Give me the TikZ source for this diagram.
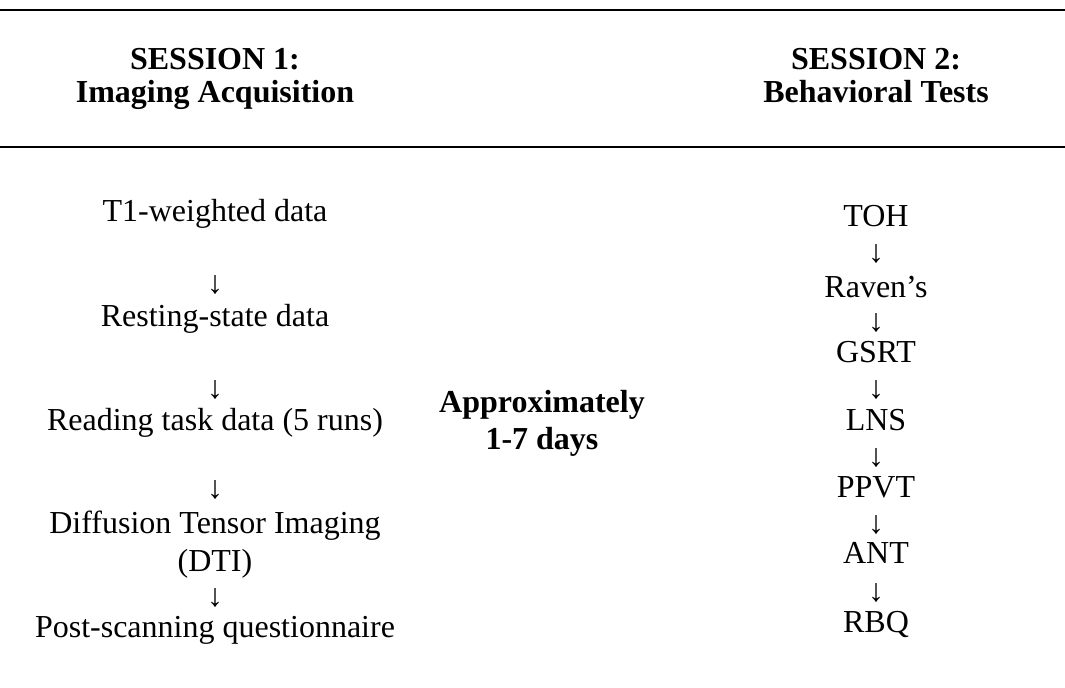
\documentclass[tikz,border=0pt]{standalone}
\usepackage{fontspec}
\setmainfont{Liberation Serif}

\begin{document}
\begin{tikzpicture}[x=0.75pt, y=-0.75pt,
					rule/.style={line width=1.9pt},
					head/.style={font=\fontsize{24}{24.75}\selectfont\bfseries, align=center, anchor=base, inner sep=0pt},
					item/.style={font=\fontsize{24}{28.5}\selectfont, align=center, anchor=base, inner sep=0pt},
					down/.style={item}
				]
				% Columnas (en px)
				\def\xl{215}     % sesion 1
				\def\xm{542}     % intervalo
				\def\xr{876}     % sesion 2

				\useasboundingbox (0,0) rectangle (1065,688);

				% --- Reglas ---
				\draw[rule] (0,10) -- (1065,10);
				\draw[rule] (0,147) -- (1065,147);

				% --- Encabezados (base = ultima linea) ---
				\node[head] (s1) at (\xl,103) {SESSION 1:\\Imaging Acquisition};
				\node[head] (s2) at (\xr,103) {SESSION 2:\\Behavioral Tests};

				% --- Sesion 1 ---
				\node[item] (t1) at (\xl,222) {T1-weighted data};
				\node[down] (a1) at (\xl,294) {↓};
				\node[item] (rest) at (\xl,327) {Resting-state data};
				\node[down] (a2) at (\xl,398) {↓};
				\node[item] (read) at (\xl,430) {Reading task data (5 runs)};
				\node[down] (a3) at (\xl,498) {↓};
				\node[item] (dti) at (\xl,571) {Diffusion Tensor Imaging\\(DTI)};
				\node[down] (a4) at (\xl,606) {↓};
				\node[item] (post) at (\xl,637) {Post-scanning questionnaire};

				% --- Intervalo ---
				\node[head, font=\fontsize{24}{27.75}\selectfont\bfseries] (gap) at (\xm,449) {Approximately\\1-7 days};

				% --- Sesion 2 ---
				\node[item] (toh) at (\xr,227) {TOH};
				\node[down] (b1) at (\xr,263) {↓};
				\node[item] (rav) at (\xr,297) {Raven’s};
				\node[down] (b2) at (\xr,331) {↓};
				\node[item] (gsrt) at (\xr,363) {GSRT};
				\node[down] (b3) at (\xr,398) {↓};
				\node[item] (lns) at (\xr,430) {LNS};
				\node[down] (b4) at (\xr,466) {↓};
				\node[item] (ppvt) at (\xr,497) {PPVT};
				\node[down] (b5) at (\xr,533) {↓};
				\node[item] (ant) at (\xr,563) {ANT};
				\node[down] (b6) at (\xr,601) {↓};
				\node[item] (rbq) at (\xr,632) {RBQ};

			\end{tikzpicture}
\end{document}
